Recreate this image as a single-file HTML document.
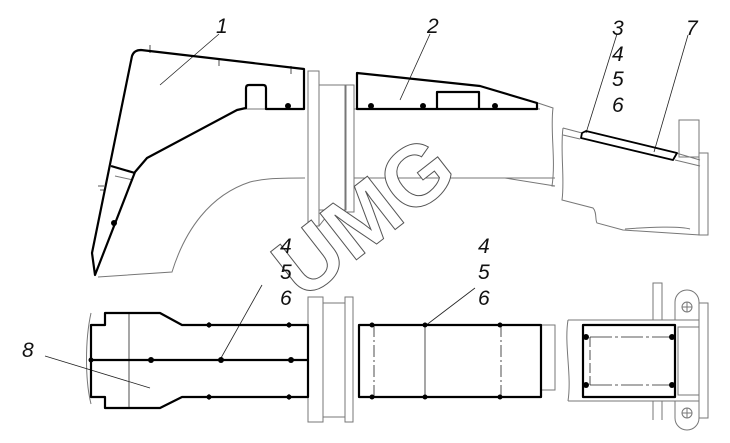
<!DOCTYPE html>
<html><head><meta charset="utf-8"><style>
html,body{margin:0;padding:0;background:#fff;}
svg{display:block;}
text{font-family:"Liberation Sans",sans-serif;font-style:italic;fill:#111;}
</style></head><body>
<svg width="730" height="443" viewBox="0 0 730 443" xmlns="http://www.w3.org/2000/svg">
<g fill="none" stroke="#777" stroke-width="1">
  <line x1="243" y1="109" x2="305" y2="109"/>
  <line x1="354" y1="109" x2="540" y2="109"/>
  <path d="M98,277 L172,272 C185,230 210,195 250,182 C262,179 272,178 305,178"/>
  <line x1="354" y1="178" x2="555" y2="178"/>
  <path d="M538,103 L553,108 C550,130 556,160 552,186 L555,186"/>
  <path d="M555,186 L505,178"/>
  <rect x="308" y="71" width="11" height="155"/>
  <rect x="319" y="85" width="27" height="125"/>
  <rect x="345" y="85" width="9" height="127"/>
  <path d="M308,226 L319,226 L330,212"/>
  <path d="M563,128 L582,133 M676,153 L700,160"/>
  <path d="M563,135 L580,139 M675,160 L700,166"/>
  <path d="M563,128 C560,150 565,180 562,200 L593,208 C597,212 595,220 597,223 L623,230 L700,235"/>
  <path d="M625,229 C650,227 680,226 690,229"/>
  <rect x="679" y="120" width="20" height="37"/>
  <rect x="699" y="153" width="9" height="82"/>
  <line x1="115" y1="176" x2="133" y2="180"/>
  <rect x="308" y="297" width="15" height="125"/>
  <rect x="323" y="303" width="22" height="114"/>
  <rect x="345" y="297" width="8" height="125"/>
  <path d="M91,313 C85,340 85,380 91,404"/>
  <rect x="541" y="325" width="14" height="65"/>
  <path d="M568,320 L699,320 M568,401 L699,401 M568,320 C564,345 572,375 568,401"/>
  <rect x="678" y="327" width="21" height="68"/>
  <rect x="653" y="283" width="9" height="37"/>
  <path d="M653,401 L653,420 M662,401 L662,420"/>
  <path d="M675,320 L675,302 A12,12 0 0 1 699,302 L699,320"/>
  <path d="M675,401 L675,418 A12,12 0 0 0 699,418 L699,401"/>
  <circle cx="687" cy="307" r="5"/><line x1="682" y1="307" x2="692" y2="307"/><line x1="687" y1="302" x2="687" y2="312"/>
  <circle cx="687" cy="413" r="5"/><line x1="682" y1="413" x2="692" y2="413"/><line x1="687" y1="408" x2="687" y2="418"/>
  <rect x="699" y="303" width="9" height="115"/>
</g>
<g fill="none" stroke="#222" stroke-width="0.8">
  <line x1="129" y1="313" x2="129" y2="408"/>
  <line x1="425" y1="325" x2="425" y2="397"/>
  <line x1="374" y1="325" x2="374" y2="397" stroke-dasharray="12,3,2,3"/>
  <line x1="501" y1="325" x2="501" y2="397" stroke-dasharray="12,3,2,3"/>
  <path d="M590,337 L672,337 M590,385 L672,385" stroke-dasharray="22,3,3,3"/>
  <line x1="590" y1="337" x2="590" y2="385" stroke-dasharray="10,3"/>
  <line x1="219" y1="34" x2="160" y2="85"/>
  <line x1="430" y1="34" x2="400" y2="100"/>
  <line x1="617" y1="34" x2="586" y2="133"/>
  <line x1="688" y1="35" x2="654" y2="152"/>
  <line x1="262" y1="285" x2="221" y2="358"/>
  <line x1="475" y1="288" x2="425" y2="326"/>
  <line x1="45" y1="356" x2="150" y2="388"/>
  <path d="M150,45 v8 M219,58 v8 M291,66 v8 M104,186 h-6 M100,190 h4"/>
  <path d="M209,322 v6 M289,322 v6 M209,394 v6 M289,394 v6"/>
</g>
<g fill="none" stroke="#000" stroke-width="2.2" stroke-linejoin="round">
  <path d="M95,275 L92,253 L132,56 Q134,50 141,50 L304,69 L304,109 L266,109 L266,88 Q266,85 263,85 L249,85 Q246,85 246,88 L246,108 L237,110 L147,158 L135,172 Z"/>
  <path d="M111,166 L135,173"/>
  <path d="M357,73 L480,86 L537,103 L537,109 L357,109 Z"/>
  <path d="M437,109 L437,92 L479,92 L479,109"/>
  <path d="M582,133 L586,131 L677,153 L673,160 L581,138 Z" stroke-width="1.8"/>
  <path d="M91,325 L105,325 L105,313 L160,313 L182,325 L308,325 L308,397 L182,397 L160,408 L105,408 L105,397 L91,397 Z"/>
  <line x1="91" y1="360" x2="308" y2="360"/>
  <rect x="359" y="325" width="182" height="72"/>
  <rect x="583" y="325" width="92" height="72"/>
</g>
<g fill="#000">
  <circle cx="288" cy="106" r="3"/><circle cx="371" cy="106" r="3"/><circle cx="423" cy="106" r="3"/><circle cx="495" cy="106" r="3"/>
  <circle cx="114" cy="223" r="3"/>
  <circle cx="209" cy="325" r="2.5"/><circle cx="289" cy="325" r="2.5"/><circle cx="209" cy="397" r="2.5"/><circle cx="289" cy="397" r="2.5"/>
  <circle cx="91" cy="360" r="2.5"/><circle cx="151" cy="360" r="3"/><circle cx="221" cy="360" r="3"/><circle cx="291" cy="360" r="3"/>
  <circle cx="372" cy="325" r="2.5"/><circle cx="425" cy="325" r="2.5"/><circle cx="500" cy="325" r="2.5"/>
  <circle cx="372" cy="397" r="2.5"/><circle cx="425" cy="397" r="2.5"/><circle cx="500" cy="397" r="2.5"/>
  <circle cx="586" cy="337" r="3"/><circle cx="672" cy="337" r="3"/><circle cx="586" cy="385" r="3"/><circle cx="672" cy="385" r="3"/>
</g>
<text x="368" y="222" transform="rotate(-38 368 222)" text-anchor="middle" dominant-baseline="middle" style="font-style:normal;font-weight:bold;font-size:86px;fill:#fff;stroke:#555;stroke-width:1">UMG</text>
<g font-size="21">
  <text x="216" y="33">1</text>
  <text x="427" y="33">2</text>
  <text x="612" y="35">3</text>
  <text x="612" y="61">4</text>
  <text x="612" y="86">5</text>
  <text x="612" y="112">6</text>
  <text x="686" y="35">7</text>
  <text x="280" y="253">4</text>
  <text x="280" y="279">5</text>
  <text x="280" y="305">6</text>
  <text x="478" y="253">4</text>
  <text x="478" y="279">5</text>
  <text x="478" y="305">6</text>
  <text x="22" y="357">8</text>
</g>
</svg>
</body></html>
